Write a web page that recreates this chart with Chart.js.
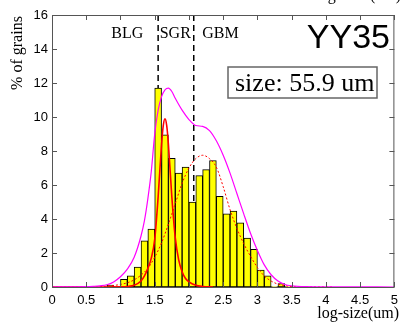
<!DOCTYPE html>
<html>
<head>
<meta charset="utf-8">
<script src="https://cdn.jsdelivr.net/npm/chart.js@4.4.0/dist/chart.umd.min.js"></script>
<style>
  html, body { margin: 0; padding: 0; background: #fff; }
  canvas { display: block; }
</style>
</head>
<body>
<canvas id="chart" width="404" height="323"></canvas>
<script>
// histogram, bins are 0.1 wide, values are bin centres
const binCenters = [0.85, 0.95, 1.05, 1.15, 1.25, 1.35, 1.45, 1.55, 1.65, 1.75, 1.85, 1.95, 2.05, 2.15,
  2.25, 2.35, 2.45, 2.55, 2.65, 2.75, 2.85, 2.95, 3.05, 3.15, 3.25, 3.35, 3.45];
const grainPercent = [0.12, 0.03, 0.45, 0.65, 1.17, 2.72, 3.41, 11.7, 8.95, 7.57, 6.70, 7.06, 4.99, 6.55,
  6.9, 7.44, 5.33, 4.30, 4.47, 3.77, 2.88, 2.21, 1.0, 0.65, 0.03, 0.2, 0.03];

// magenta envelope
const sumX = [0, 0.3, 0.5, 0.6, 0.7, 0.8, 0.9, 1.0, 1.1, 1.2, 1.3, 1.35, 1.4, 1.45, 1.5, 1.55, 1.6, 1.65, 1.7,
  1.75, 1.8, 1.9, 2.0, 2.1, 2.2, 2.3, 2.4, 2.5, 2.6, 2.7, 2.8, 2.9, 3.0, 3.1, 3.2, 3.3, 3.4, 3.5, 3.7, 4.0, 5.0];
const sumY = [0, 0.01, 0.02, 0.04, 0.07, 0.13, 0.3, 0.6, 1.05, 1.75, 3.0, 3.9, 5.2, 6.8, 9.0, 10.4, 11.2, 11.6, 11.7,
  11.5, 11.1, 10.4, 9.85, 9.5, 9.45, 9.2, 8.6, 7.75, 6.7, 5.5, 4.3, 3.15, 2.15, 1.3, 0.72, 0.35, 0.15, 0.07, 0.02, 0.01, 0];

// narrow fit (solid red)
const fit1X = [0, 0.5, 1.0, 1.1, 1.2, 1.3, 1.35, 1.4, 1.45, 1.5, 1.55, 1.6, 1.625, 1.65, 1.675, 1.7, 1.75, 1.8,
  1.85, 1.9, 1.95, 2.0, 2.1, 2.2, 2.35];
const fit1Y = [0, 0, 0.01, 0.03, 0.1, 0.35, 0.65, 1.1, 1.7, 2.8, 5.3, 8.4, 9.5, 9.9, 9.5, 8.4, 5.3, 2.9,
  1.6, 0.9, 0.5, 0.3, 0.1, 0.03, 0];

// wide fit (dotted red)
const fit2X = [0, 0.5, 0.8, 1.0, 1.1, 1.2, 1.3, 1.4, 1.5, 1.6, 1.7, 1.8, 1.9, 2.0, 2.1, 2.2, 2.3, 2.4, 2.5,
  2.6, 2.7, 2.8, 2.9, 3.0, 3.1, 3.2, 3.3, 3.4, 3.5, 3.7, 4.1];
const fit2Y = [0, 0.005, 0.05, 0.15, 0.25, 0.42, 0.7, 1.1, 1.75, 2.6, 3.7, 4.9, 6.1, 7.0, 7.55, 7.75, 7.55, 7.05, 5.9,
  4.55, 3.45, 2.55, 1.8, 1.15, 0.65, 0.35, 0.17, 0.08, 0.03, 0.01, 0];

const boundaries = [1.55, 2.07];
const regionNames = ['BLG', 'SGR', 'GBM'];
const regionX = [1.1, 1.8, 2.46];

const serif = '"Liberation Serif", "Times New Roman", serif';
const sans = '"Liberation Sans", Arial, sans-serif';

const toPoints = (xs, ys) => xs.map((x, i) => ({ x: x, y: ys[i] }));

const extras = {
  id: 'extras',
  beforeDatasetsDraw(chart) {
    const ctx = chart.ctx, x = chart.scales.x, y = chart.scales.y;
    ctx.save();
    ctx.strokeStyle = '#000';
    ctx.lineWidth = 1.5;
    ctx.setLineDash([6, 4]);
    boundaries.forEach(b => {
      const px = x.getPixelForValue(b);
      ctx.beginPath();
      ctx.moveTo(px, y.getPixelForValue(16));
      ctx.lineTo(px, y.getPixelForValue(0));
      ctx.stroke();
    });
    ctx.restore();
  },
  afterDatasetsDraw(chart) {
    const ctx = chart.ctx, x = chart.scales.x, y = chart.scales.y;
    const a = chart.chartArea;
    ctx.save();
    // box + inward ticks
    ctx.strokeStyle = '#555';
    ctx.lineWidth = 1;
    ctx.strokeRect(a.left + 0.5, a.top + 0.5, a.right - a.left - 1, a.bottom - a.top);
    ctx.beginPath();
    x.ticks.forEach(t => {
      const px = Math.round(x.getPixelForValue(t.value)) + 0.5;
      ctx.moveTo(px, a.bottom); ctx.lineTo(px, a.bottom - 5);
      ctx.moveTo(px, a.top); ctx.lineTo(px, a.top + 5);
    });
    y.ticks.forEach(t => {
      const py = Math.round(y.getPixelForValue(t.value)) + 0.5;
      ctx.moveTo(a.left, py); ctx.lineTo(a.left + 5, py);
      ctx.moveTo(a.right, py); ctx.lineTo(a.right - 5, py);
    });
    ctx.stroke();

    ctx.fillStyle = '#000';
    ctx.font = '16px ' + serif;
    ctx.textAlign = 'center';
    ctx.textBaseline = 'middle';
    regionNames.forEach((n, i) => {
      ctx.fillText(n, x.getPixelForValue(regionX[i]), y.getPixelForValue(14.9));
    });

    ctx.font = '34px ' + sans;
    ctx.textAlign = 'right';
    ctx.textBaseline = 'alphabetic';
    ctx.fillText('YY35', 390, 48);

    ctx.strokeStyle = '#666';
    ctx.lineWidth = 1.5;
    ctx.strokeRect(228, 67, 149, 31);
    ctx.font = '26px ' + serif;
    ctx.textAlign = 'left';
    ctx.fillText('size: 55.9 um', 235, 91);

    // axis titles
    ctx.font = '16px ' + serif;
    ctx.textAlign = 'right';
    ctx.fillText('log-size(um)', 399, 318);
    ctx.fillText('log-size (um)', 401, 0);
    ctx.translate(18, 53);
    ctx.rotate(-Math.PI / 2);
    ctx.textAlign = 'center';
    ctx.textBaseline = 'middle';
    ctx.fillText('% of grains', 0, 0);
    ctx.restore();
  }
};

new Chart(document.getElementById('chart'), {
  type: 'bar',
  data: {
    datasets: [
      {
        type: 'line', data: toPoints(sumX, sumY), borderColor: '#ff00ff', borderWidth: 1.2,
        pointRadius: 0, cubicInterpolationMode: 'monotone', order: 1
      },
      {
        type: 'line', data: toPoints(fit1X, fit1Y), borderColor: '#ff0000', borderWidth: 1.6,
        pointRadius: 0, cubicInterpolationMode: 'monotone', order: 2
      },
      {
        type: 'line', data: toPoints(fit2X, fit2Y), borderColor: '#ff0000', borderWidth: 1,
        borderDash: [2, 2], pointRadius: 0, cubicInterpolationMode: 'monotone', order: 3
      },
      {
        type: 'bar', data: toPoints(binCenters, grainPercent), backgroundColor: '#ffff00',
        borderColor: '#000', borderWidth: 1, borderSkipped: false,
        barPercentage: 1, categoryPercentage: 1, order: 4
      }
    ]
  },
  options: {
    responsive: false,
    animation: false,
    layout: { padding: { top: 15, right: 5, left: 0, bottom: 0 } },
    plugins: { legend: { display: false }, tooltip: { enabled: false } },
    scales: {
      x: {
        type: 'linear', min: 0, max: 5, offset: false,
        grid: { display: false, drawTicks: false }, border: { display: false },
        ticks: { stepSize: 0.5, padding: 6, color: '#000', font: { family: sans, size: 13 }, maxRotation: 0,
          callback: v => String(v) },
        afterFit: s => { s.height = 36; }
      },
      y: {
        min: 0, max: 16,
        grid: { display: false, drawTicks: false }, border: { display: false },
        ticks: { stepSize: 2, padding: 4, color: '#000', font: { family: sans, size: 13 } },
        afterFit: s => { s.width = 52; }
      }
    }
  },
  plugins: [extras]
});
</script>
</body>
</html>
